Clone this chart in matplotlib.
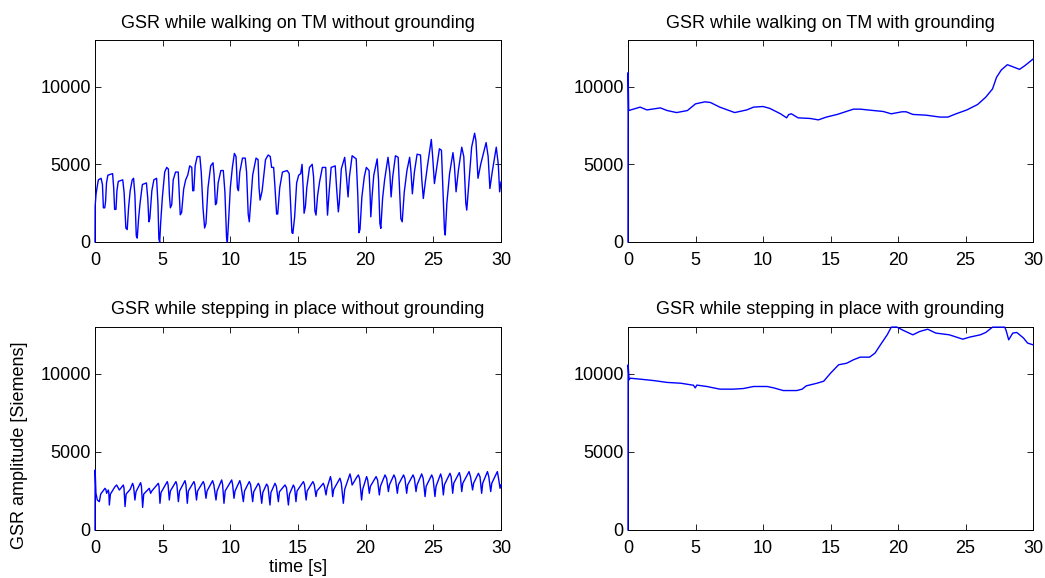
import matplotlib
matplotlib.use("Agg")
import matplotlib.pyplot as plt

plt.rcParams['font.family'] = ['Liberation Sans', 'DejaVu Sans']

# ---- data (vertices) ----
tl_t = [0.0, 0.01, 0.08, 0.15, 0.25, 0.45, 0.55, 0.62, 0.72, 0.78, 0.85, 0.95, 1.3, 1.38, 1.45, 1.55, 1.62, 1.72,
        2.05, 2.15, 2.28, 2.38, 2.48, 2.6, 2.75, 2.85, 2.95, 3.05, 3.12, 3.22, 3.33, 3.5, 3.8, 3.9, 3.98, 4.05,
        4.2, 4.35, 4.55, 4.65, 4.72, 4.78, 4.85, 4.98, 5.15, 5.3, 5.42, 5.5, 5.57, 5.67, 5.78, 5.95, 6.15, 6.22,
        6.3, 6.4, 6.55, 6.7, 6.85, 7.0, 7.15, 7.22, 7.3, 7.4, 7.55, 7.75, 7.85, 7.98, 8.1, 8.2, 8.35, 8.55,
        8.72, 8.8, 8.9, 8.98, 9.1, 9.3, 9.48, 9.6, 9.72, 9.78, 9.88, 10.0, 10.15, 10.3, 10.42, 10.52, 10.6,
        10.7, 10.9, 11.1, 11.2, 11.32, 11.4, 11.5, 11.65, 11.9, 12.05, 12.12, 12.2, 12.35, 12.6, 12.8, 12.95,
        13.05, 13.2, 13.3, 13.42, 13.5, 13.65, 13.85, 14.2, 14.35, 14.45, 14.55, 14.62, 14.75, 14.9, 15.05,
        15.2, 15.3, 15.38, 15.45, 15.55, 15.65, 15.85, 16.05, 16.15, 16.25, 16.33, 16.45, 16.6, 16.8, 17.05,
        17.12, 17.18, 17.3, 17.45, 17.75, 17.85, 17.98, 18.05, 18.2, 18.45, 18.55, 18.7, 18.8, 19.0, 19.3,
        19.42, 19.5, 19.58, 19.72, 19.9, 20.05, 20.25, 20.33, 20.38, 20.48, 20.6, 20.85, 20.95, 21.05, 21.12,
        21.25, 21.4, 21.65, 21.78, 21.88, 22.0, 22.2, 22.4, 22.5, 22.6, 22.7, 22.85, 23.05, 23.25, 23.35,
        23.45, 23.6, 23.8, 24.05, 24.15, 24.26, 24.4, 24.55, 24.85, 24.95, 25.08, 25.25, 25.45, 25.6, 25.7,
        25.82, 25.88, 26.0, 26.2, 26.45, 26.55, 26.68, 26.85, 27.1, 27.25, 27.4, 27.47, 27.6, 27.83, 28.05,
        28.15, 28.3, 28.5, 28.9, 29.05, 29.18, 29.35, 29.65, 29.8, 29.9, 30.0]
tl_v = [0, 2300, 3100, 3500, 4000, 4100, 3700, 2200, 2200, 2600, 3800, 4300, 4400, 3500, 2100, 2100, 3300, 3900,
        4000, 3200, 900, 800, 2200, 3300, 4000, 4100, 3000, 400, 250, 1500, 2500, 3700, 3800, 2800, 1300, 1500,
        3300, 4000, 4100, 2500, 200, 0, 1200, 2900, 4500, 4800, 4700, 3000, 2200, 2400, 4000, 4500, 4500, 3200,
        1750, 1900, 3400, 4000, 4300, 4900, 4800, 3300, 3300, 4900, 5500, 5500, 4500, 2200, 900, 1200, 3500, 4900,
        5100, 4300, 2400, 2500, 3800, 4600, 4600, 3200, 300, 0, 1500, 3500, 4800, 5700, 5500, 3500, 3300,
        4500, 5400, 5400, 4500, 1800, 1300, 2500, 4300, 5400, 5300, 3500, 2700, 3300, 5300, 5600, 5500,
        4800, 4800, 3500, 1800, 1800, 3500, 4500, 4600, 4400, 2500, 600, 550, 1600, 3800, 4300,
        4400, 5000, 3500, 1850, 2300, 3500, 4800, 5000, 4200, 2000, 1730, 3000, 3900, 4800, 4800,
        3000, 1730, 3200, 4800, 4900, 3500, 1940, 2500, 4700, 5450, 4500, 2900, 4200, 5550, 5350,
        3000, 600, 800, 2900, 4200, 4800, 4600, 3000, 1620, 3000, 4300, 5350, 4000, 1200, 880,
        2800, 4000, 5450, 4500, 2900, 4200, 5550, 5450, 3500, 1500, 1300, 3200, 4600, 5450, 4500,
        3100, 4500, 5650, 5600, 4000, 2800, 3800, 4800, 6600, 5500, 3760, 4800, 6000, 5900, 3500,
        800, 450, 2500, 4400, 5750, 5000, 3230, 4600, 6100, 5500, 2500, 2050, 3500, 6100, 7000,
        6500, 4100, 5000, 6400, 5500, 3440, 4500, 6100, 5000, 3230, 3870]

tr_t = [0.0, 0.01, 0.05, 0.9, 1.4, 2.4, 2.9, 3.6, 4.4, 5.0, 5.7, 6.1, 6.8, 7.9, 8.8, 9.3, 10.0, 10.5, 11.3,
        11.75, 11.9, 12.1, 12.6, 13.5, 14.1, 14.7, 15.5, 16.7, 17.2, 18.2, 18.9, 19.5, 20.3, 20.6, 21.1,
        22.1, 23.1, 23.7, 24.3, 25.1, 25.9, 26.5, 27.0, 27.3, 27.65, 28.1, 28.5, 29.0, 29.4, 30.0]
tr_v = [0, 10900, 8460, 8680, 8500, 8630, 8460, 8330, 8460, 8890, 9020, 8980, 8680, 8330, 8500, 8680, 8720, 8600, 8250,
        7990, 8200, 8250, 7990, 7950, 7860, 8040, 8210, 8550, 8550, 8460, 8400, 8250, 8380, 8380, 8210,
        8160, 8040, 8040, 8250, 8500, 8850, 9320, 9850, 10600, 11070, 11410, 11280, 11110, 11350, 11770]

bl_t = [0.0, 0.01, 0.07, 0.17, 0.32, 0.42, 0.74, 0.8, 0.86, 0.98, 1.02, 1.06,
        1.14, 1.48, 1.6, 1.8, 2.09, 2.14, 2.22,
        2.3, 2.6, 2.78, 2.85, 2.95, 3.03, 3.37, 3.43, 3.52,
        3.6, 4.01, 4.11, 4.2, 4.68, 4.73, 4.8,
        4.88, 5.34, 5.4, 5.49, 5.57, 5.98, 6.05, 6.16, 6.25, 6.65, 6.72, 6.82,
        6.9, 7.31, 7.38, 7.5, 7.58, 8.0, 8.08, 8.2, 8.28, 8.69, 8.78, 8.94,
        9.02, 9.36, 9.43, 9.53, 9.62, 10.1, 10.17, 10.27, 10.35, 10.7, 10.78, 10.96,
        11.05, 11.4, 11.5, 11.65, 11.73, 12.07, 12.17, 12.32, 12.4, 12.68, 12.78, 12.93,
        13.0, 13.3, 13.4, 13.55, 13.63, 14.04, 14.15, 14.29, 14.37, 14.66, 14.75, 14.85,
        14.93, 15.4, 15.48, 15.6, 15.68, 16.1, 16.2, 16.33, 16.4, 16.87, 16.95, 17.07,
        17.15, 17.4, 17.47, 17.56, 17.64, 18.1, 18.2, 18.35,
        18.45, 18.84, 18.92, 19.0, 19.34, 19.46, 19.55, 19.7,
        19.78, 20.07, 20.15, 20.27, 20.35, 20.77, 20.88, 21.01, 21.09, 21.43, 21.55, 21.68,
        21.76, 22.09, 22.2, 22.34, 22.42, 22.8, 22.9, 23.03, 23.11, 23.5, 23.6, 23.72,
        23.8, 24.14, 24.25, 24.39, 24.47, 24.88, 24.98, 25.12, 25.2, 25.54, 25.63, 25.74,
        25.82, 26.23, 26.32, 26.43, 26.51, 26.92, 27.0, 27.1, 27.18, 27.64, 27.75, 27.9,
        27.98, 28.33, 28.45, 28.57, 28.65, 29.0, 29.1, 29.24, 29.32, 29.73, 29.82, 29.93, 30.0]
bl_v = [0, 3850, 2350, 1920, 1815, 2300, 2670, 2600, 2350, 2560, 2400, 1600,
        2300, 2780, 2880, 2560, 2880, 2700, 1500,
        2300, 2600, 2990, 2800, 1920, 2450, 3030, 2800, 1450,
        2300, 2670, 2350, 2500, 2990, 2800, 1710,
        2400, 3100, 2900, 1920, 2500, 3100, 2900, 1815, 2500, 3160, 2900, 1710,
        2500, 3100, 2900, 1920, 2500, 3100, 2900, 2030, 2500, 3160, 2900, 1920,
        2500, 3205, 2900, 1710, 2500, 3205, 2900, 2030, 2500, 3160, 2900, 1815,
        2500, 3100, 2900, 1815, 2450, 2990, 2800, 1710, 2400, 2940, 2800, 1600,
        2400, 2990, 2800, 1815, 2450, 2885, 2700, 1600, 2300, 2880, 2700, 1815,
        2500, 3100, 2900, 1920, 2500, 3100, 2900, 2140, 2500, 2990, 2800, 2245,
        2700, 3420, 3100, 2140, 2600, 3315, 3000, 1710,
        2600, 3590, 3300, 2880, 3380, 3525, 3300, 1920,
        2600, 3420, 3200, 2350, 2800, 3420, 3200, 2245, 2800, 3525, 3300, 2460,
        2900, 3525, 3300, 2350, 2900, 3525, 3300, 2350, 2900, 3525, 3300, 2460,
        2900, 3590, 3300, 2140, 2800, 3525, 3300, 2140, 2800, 3590, 3300, 2245,
        2900, 3630, 3400, 2350, 3000, 3675, 3400, 2460, 3000, 3740, 3400, 2565,
        3000, 3630, 3400, 2350, 3000, 3740, 3400, 2460, 3000, 3740, 3300, 2670, 2900]

br_t = [0.0, 0.01, 0.08, 0.17, 0.9, 1.9, 2.9, 3.9, 4.85, 4.98, 5.1, 5.84, 6.8, 7.8, 8.55, 9.3, 10.3, 10.8,
        11.5, 12.5, 12.9, 13.2, 14.0, 14.5, 15.0, 15.6, 16.2, 16.7, 17.2, 17.9, 18.3, 18.7, 19.2, 19.5,
        19.9, 20.4, 21.1, 21.6, 22.2, 22.8, 23.8, 24.8, 25.3, 26.1, 26.5, 27.0, 27.9, 28.0, 28.2, 28.5,
        28.8, 29.3, 29.6, 30.0]
br_v = [0, 10580, 9620, 9720, 9660, 9570, 9450, 9400, 9270, 9100, 9280, 9190, 9020, 9020, 9060, 9190, 9190, 9100,
        8930, 8930, 9020, 9230, 9400, 9530, 10040, 10580, 10680, 10900, 11070, 11070, 11330, 11860, 12500, 12990,
        13000, 12780, 12500, 12710, 12860, 12610, 12500, 12220, 12350, 12500, 12650, 12990, 12990, 12800, 12180, 12610,
        12650, 12290, 11970, 11860]

titles = ["GSR while walking on TM without grounding",
          "GSR while walking on TM with grounding",
          "GSR while stepping in place without grounding",
          "GSR while stepping in place with grounding"]
xticks = [0, 5, 10, 15, 20, 25, 30]
yticks = [0, 5000, 10000]

FS = 13
fig = plt.figure(figsize=(10.45, 5.78), dpi=100)
W, H = 1045, 578
boxes = [(95, 40, 501, 242), (628, 40, 1033, 242), (95, 327, 501, 530), (628, 327, 1033, 530)]
series = [(tl_t, tl_v), (tr_t, tr_v), (bl_t, bl_v), (br_t, br_v)]
axes = []
for (x0, y0, x1, y1), (t, v), title in zip(boxes, series, titles):
    ax = fig.add_axes([x0 / W, 1 - y1 / H, (x1 - x0) / W, (y1 - y0) / H])
    ax.plot(t, v, color='#0000ff', lw=1.0, zorder=3, clip_on=False)
    ax.set_xlim(0, 30)
    ax.set_ylim(0, 13000)
    ax.set_xticks(xticks)
    ax.set_yticks(yticks)
    ax.tick_params(direction='in', top=True, right=True, length=4, width=0.6,
                   labelsize=FS)
    ax.tick_params(axis='x', pad=7)
    ax.tick_params(axis='y', pad=3)
    for s in ax.spines.values():
        s.set_linewidth(0.7)
        s.set_zorder(2)
    ax.set_title(title, fontsize=FS, pad=9)
    axes.append(ax)

fig.text(298 / W, 1 - 568 / H, "time [s]", fontsize=FS, ha='center', va='center')
fig.text(20 / W, 1 - 445 / H, "GSR amplitude [Siemens]", fontsize=FS, ha='center', va='center',
         rotation=90)

fig.savefig("out.png", dpi=100)
